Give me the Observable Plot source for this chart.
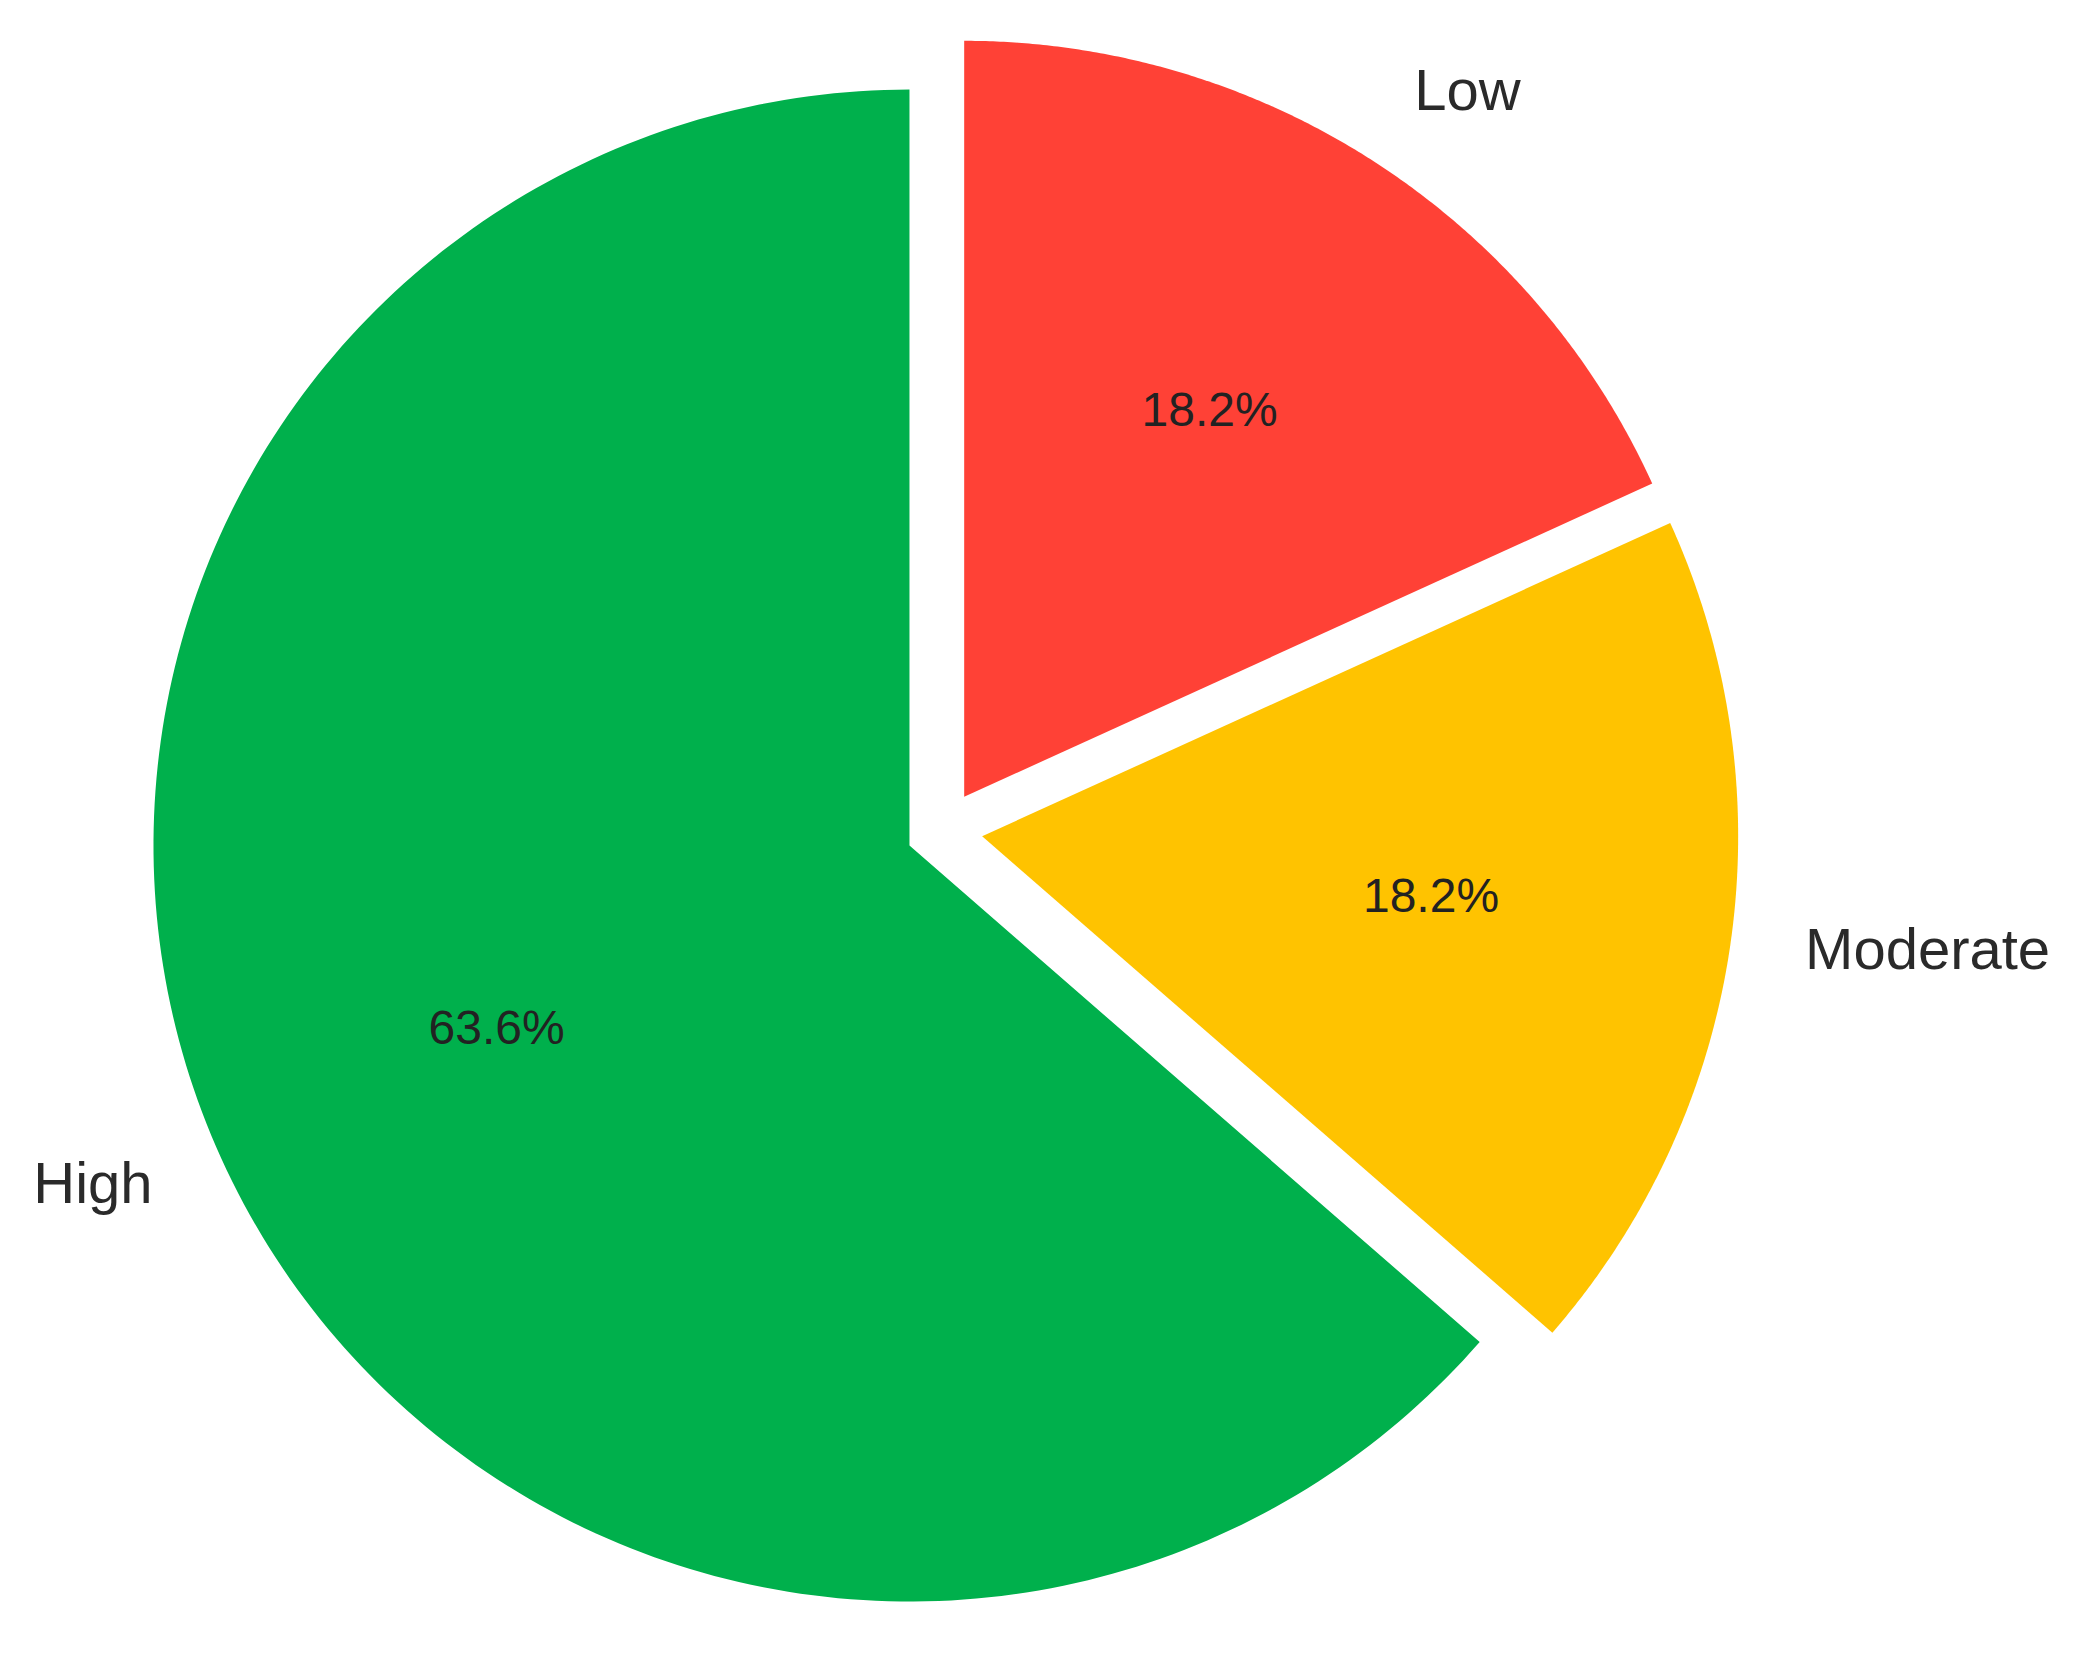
<!DOCTYPE html>
<html>
<head>
<meta charset="utf-8">
<script src="https://cdn.jsdelivr.net/npm/d3@7"></script>
<script src="https://cdn.jsdelivr.net/npm/@observablehq/plot@0.6"></script>
<style>
  html, body { margin: 0; padding: 0; background: #ffffff; }
  #chart svg { display: block; }
</style>
</head>
<body>
<div id="chart"></div>
<script>
// ---- data ----
const categories = ["Low", "Moderate", "High"];
const values = [18.2, 18.2, 63.6];
const colors = ["#FF4136", "#FFC300", "#00B04C"];
const explode = [0.053, 0.053, 0.048];

// ---- pie layout (clockwise from 12 o'clock), unit radius ----
const total = d3.sum(values);
const slices = [];
let start = 0;
values.forEach((v, i) => {
  const sweep = (v / total) * 2 * Math.PI;
  const a0 = start, a1 = start + sweep, mid = (a0 + a1) / 2;
  const ox = explode[i] * Math.sin(mid), oy = explode[i] * Math.cos(mid);
  slices.push({cat: categories[i], value: v, a0, a1, mid, ox, oy, e: explode[i]});
  start = a1;
});

const wedgePts = [];
slices.forEach(s => {
  wedgePts.push({cat: s.cat, x: s.ox, y: s.oy});
  const n = 240;
  for (let k = 0; k <= n; k++) {
    const a = s.a0 + (s.a1 - s.a0) * k / n;
    wedgePts.push({cat: s.cat, x: s.ox + Math.sin(a), y: s.oy + Math.cos(a)});
  }
  wedgePts.push({cat: s.cat, x: s.ox, y: s.oy});
});

const labels = slices.map(s => ({
  cat: s.cat,
  x: s.ox + 1.1 * Math.sin(s.mid),
  y: s.oy + 1.1 * Math.cos(s.mid)
}));
const pcts = slices.map(s => ({
  text: s.value.toFixed(1) + "%",
  x: s.ox + 0.6 * Math.sin(s.mid),
  y: s.oy + 0.6 * Math.cos(s.mid)
}));

// ---- canvas geometry ----
const W = 2086, H = 1659, R = 756, cx = 942, cy = 830;
const font = "Liberation Sans, Arial, sans-serif";

const chart = Plot.plot({
  width: W,
  height: H,
  margin: 0,
  style: {background: "#ffffff"},
  x: {domain: [-cx / R, (W - cx) / R], axis: null},
  y: {domain: [-(H - cy) / R, cy / R], axis: null},
  color: {domain: categories, range: colors},
  marks: [
    Plot.line(wedgePts, {x: "x", y: "y", z: "cat", fill: "cat", stroke: "none", curve: "linear"}),
    Plot.text(labels.filter(d => d.x >= 0), {
      x: "x", y: "y", text: "cat", textAnchor: "start", lineAnchor: "middle", dy: -6,
      fontSize: 58, fill: "#2a2a2a", fontFamily: font
    }),
    Plot.text(labels.filter(d => d.x < 0), {
      x: "x", y: "y", text: "cat", textAnchor: "end", lineAnchor: "middle", dy: -6,
      fontSize: 58, fill: "#2a2a2a", fontFamily: font
    }),
    Plot.text(pcts, {
      x: "x", y: "y", text: "text", textAnchor: "middle", lineAnchor: "middle", dy: -5,
      fontSize: 48, fill: "#222222", fontFamily: font
    })
  ]
});
document.getElementById("chart").appendChild(chart);
</script>
</body>
</html>
